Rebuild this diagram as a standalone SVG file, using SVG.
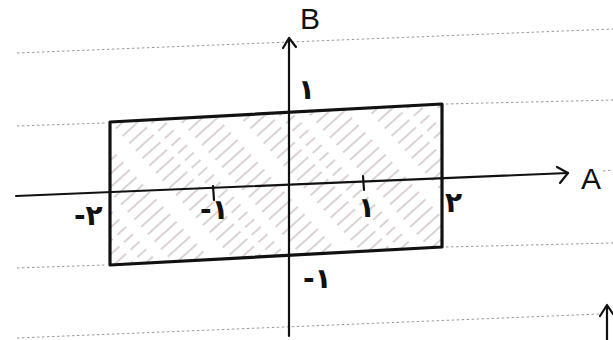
<svg xmlns="http://www.w3.org/2000/svg" width="613" height="340" viewBox="0 0 613 340">
<style>
.rule{fill:none;stroke:#9a9a9a;stroke-width:1;stroke-dasharray:2.5 2.5}
.ax{fill:none;stroke:#111;stroke-width:2.2;stroke-linecap:round;stroke-linejoin:round}
.edge{fill:none;stroke:#111;stroke-width:3.2;stroke-linejoin:round;stroke-linecap:round}
.lbl{font-family:"DejaVu Sans","Noto Sans",sans-serif;fill:#111;font-size:28px;font-weight:bold}
.big{font-family:"Liberation Sans","DejaVu Sans",sans-serif;fill:#111;font-size:30px}
</style>
<defs>
<pattern id="hatch" patternUnits="userSpaceOnUse" width="100" height="10" patternTransform="rotate(-42)">
<line x1="0" y1="3" x2="100" y2="3" stroke="#a08a86" stroke-width="0.9" stroke-dasharray="24 6 12 11 30 17"/>
</pattern>
</defs>
<rect width="613" height="340" fill="#fff"/>
<g id="ruled-lines">
<path class="rule" d="M17,53 L613,29"/>
<path class="rule" d="M17,126 L106,123"/>
<path class="rule" d="M446,104 L613,100"/>
<path class="rule" d="M603,171 L613,170"/>
<path class="rule" d="M17,268 L106,265"/>
<path class="rule" d="M446,247 L613,243"/>
<path class="rule" d="M17,338 L600,314"/>
</g>
<g id="region">
<polygon points="110,122 442,104 442,247 110,265" fill="url(#hatch)" opacity="0.85"/>
<polygon class="edge" points="110,122 442,104 442,247 110,265"/>
</g>
<g id="connectors">
<path class="ax" d="M289,336 L289,39"/>
<path class="ax" d="M283,48 L289,38 L296,47"/>
<path class="ax" d="M16,196 L568,173"/>
<path class="ax" d="M557,167 L568,173 L560,183"/>
<path class="ax" d="M213,186 L214,200"/>
<path class="ax" d="M363,176 L364,190"/>
<path class="ax" d="M607,340 L607,306"/>
<path class="ax" d="M600,316 L607,305 L613,314"/>
</g>
<g id="labels">
<text class="big" x="300" y="29">B</text>
<text class="big" x="581" y="189">A</text>
<text class="lbl" x="298" y="99">۱</text>
<text class="lbl" x="74" y="225">-۲</text>
<text class="lbl" x="200" y="219">-۱</text>
<text class="lbl" x="358" y="217">۱</text>
<text class="lbl" x="445" y="212">۲</text>
<text class="lbl" x="303" y="288">-۱</text>
</g>
</svg>
